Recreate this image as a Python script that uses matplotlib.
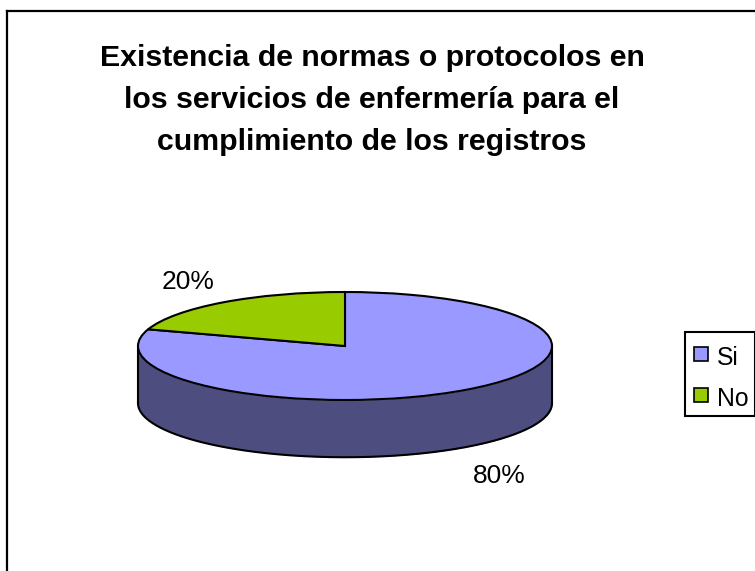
import numpy as np
import matplotlib
matplotlib.use("Agg")
from matplotlib import pyplot as plt
from matplotlib.lines import Line2D
from matplotlib.patches import Rectangle

title = "Existencia de normas o protocolos en\nlos servicios de enfermería para el\ncumplimiento de los registros"
categories = ["Si", "No"]
values = [80, 20]
colors = ["#9999FF", "#99CC00"]
side_color = "#4D4D80"

W, H = 755, 571
plt.rcParams["font.family"] = ["Liberation Sans", "DejaVu Sans"]

fig = plt.figure(figsize=(W / 100, H / 100), dpi=100)

# outer chart frame, right and bottom run off the image
fig.add_artist(Line2D([7 / W, 7 / W], [0, 1 - 11 / H], color="black", lw=1.6))
fig.add_artist(Line2D([7 / W, 1], [1 - 11 / H, 1 - 11 / H], color="black", lw=1.6))

fig.text(372 / W, 1 - 100 / H, title, ha="center", va="center",
         fontsize=21.8, fontweight="bold", linespacing=1.65)

# axes box is exactly the top ellipse of the pie
ax = fig.add_axes([138 / W, 1 - 400 / H, 414 / W, 108 / H])

depth = 1.06  # wall height, in units of the ellipse's half height
t = np.linspace(np.pi, 2 * np.pi, 200)
xs = np.cos(t)
ys = np.sin(t)
ax.fill_between(xs, ys, ys - depth, color=side_color, lw=0, clip_on=False, zorder=1)
ax.plot(xs, ys - depth, color="black", lw=1.5, clip_on=False, zorder=2)
ax.plot([-1, -1], [0, -depth], color="black", lw=1.5, clip_on=False, zorder=2)
ax.plot([1, 1], [0, -depth], color="black", lw=1.5, clip_on=False, zorder=2)

wedges, _ = ax.pie(values, colors=colors, startangle=90, counterclock=False,
                   radius=1, wedgeprops=dict(edgecolor="black", linewidth=1.5, clip_on=False, zorder=3))
ax.set_aspect("auto")
ax.set_xlim(-1, 1)
ax.set_ylim(-1, 1)

ax.text(-0.76, 1.18, f"{values[1]}%", ha="center", va="center", fontsize=19)
ax.text(0.746, -2.405, f"{values[0]}%", ha="center", va="center", fontsize=19)

# legend frame is separate, the rows sit a bit low inside it
fig.add_artist(Rectangle((684.5 / W, 1 - 416 / H), 70 / W, 84 / H, transform=fig.transFigure,
                         facecolor="white", edgecolor="black", lw=1.5))
handles = [Line2D([], [], ls="none", marker="s", markersize=10.5, markerfacecolor=c,
                  markeredgecolor="black", markeredgewidth=1.2) for c in colors]
leg = fig.legend(handles, categories, loc="upper right", numpoints=1,
                 bbox_to_anchor=(756 / W, 1 - 336 / H), fontsize=17.8,
                 frameon=False, handlelength=0.66, handleheight=1.28,
                 handletextpad=0.33, borderpad=0.3, labelspacing=0.58,
                 borderaxespad=0)

fig.savefig("out.png", dpi=100)
